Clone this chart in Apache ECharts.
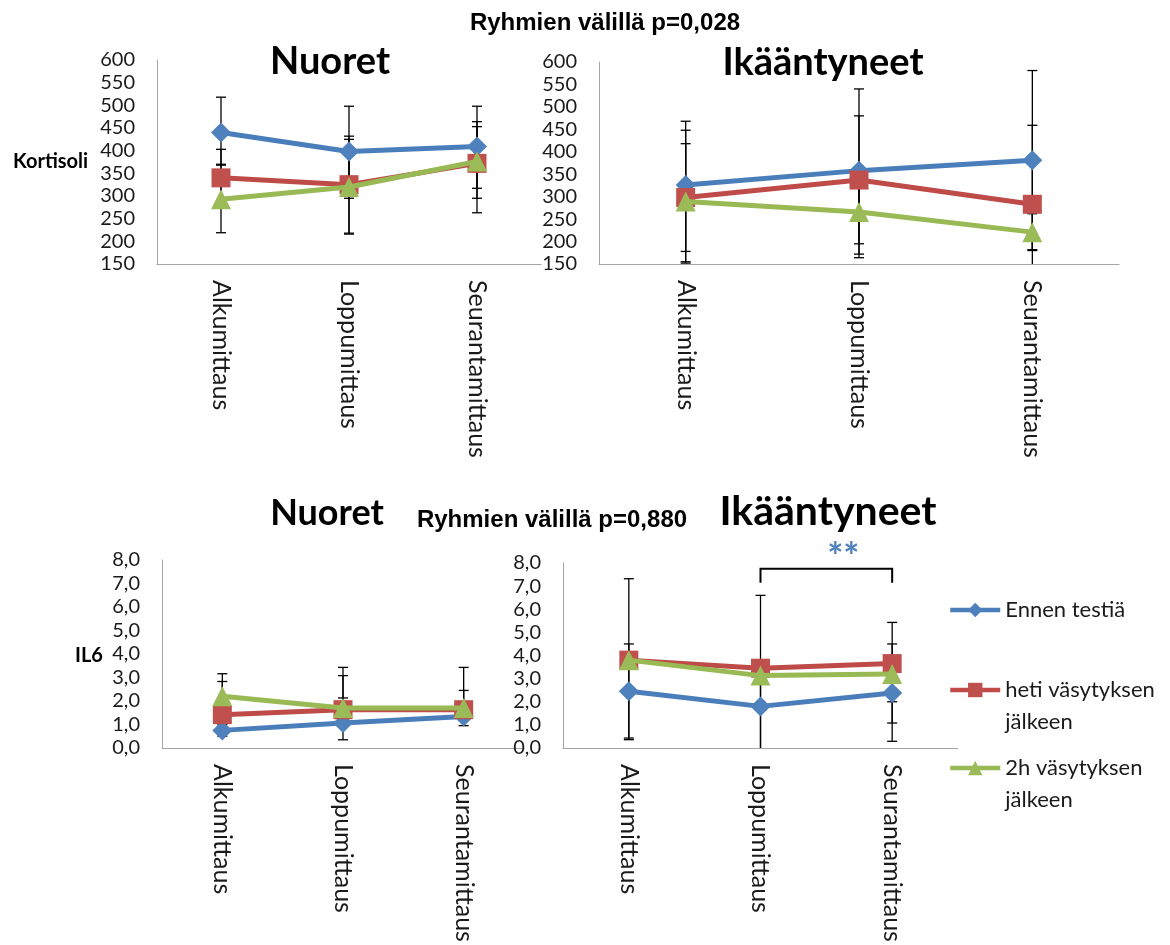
<!DOCTYPE html>
<html>
<head>
<meta charset="utf-8">
<script src="https://cdn.jsdelivr.net/npm/echarts@6/dist/echarts.min.js"></script>
<style>
  html, body { margin: 0; padding: 0; background: #ffffff; }
  #chart { width: 1170px; height: 945px; }
</style>
</head>
<body>
<div id="chart"></div>
<script>
// Measurement points and groups
const categories = ['Alkumittaus', 'Loppumittaus', 'Seurantamittaus'];
const seriesNames = ['Ennen testiä', 'heti väsytyksen jälkeen', '2h väsytyksen jälkeen'];

// Axis scales: [min, max, step]
const kortisoliScale = [150, 600, 50];
const il6Scale = [0, 8, 1];

// Cortisol, young group (rows: series, columns: categories)
const kortNuoretMean = [[440, 398, 409], [340, 325, 372], [293, 320, 376]];
const kortNuoretLow  = [[370, 295, 317], [278, 218, 263], [219, 216, 295]];
const kortNuoretHigh = [[518, 498, 498], [403, 432, 464], [368, 425, 453]];

// Cortisol, elderly group
const kortIkaMean = [[326, 358, 381], [298, 337, 283], [289, 266, 221]];
const kortIkaLow  = [[178, 172, 180], [152, 195, 100], [155, 164, 182]];
const kortIkaHigh = [[468, 540, 581], [448, 480, 459], [418, 367, 262]];

// IL6, young group
const il6NuoretMean = [[0.75, 1.06, 1.34], [1.42, 1.63, 1.63], [2.2, 1.7, 1.7]];
const il6NuoretLow  = [[0.5, 0.35, 0.95], [1.15, 1.3, 1.3], [1.85, 1.4, 1.35]];
const il6NuoretHigh = [[1.0, 2.13, 1.7], [2.83, 3.08, 3.43], [3.16, 3.43, 2.45]];

// IL6, elderly group
const il6IkaMean = [[2.45, 1.8, 2.38], [3.8, 3.45, 3.65], [3.8, 3.13, 3.2]];
const il6IkaLow  = [[0.43, -0.1, 0.29], [0.36, -0.2, 2.0], [3.5, 2.8, 1.08]];
const il6IkaHigh = [[4.5, 3.6, 4.5], [7.32, 6.6, 5.43], [4.1, 3.5, 3.5]];

// Significant difference marked in the elderly IL6 panel
const significantPair = ['Loppumittaus', 'Seurantamittaus'];
const significanceMark = '**';

const lineColors = ['#4A7EBB', '#BE4B48', '#98B954'];
const markerColors = ['#4F81BD', '#C0504D', '#9BBB59'];
const markerShapes = ['diamond', 'rect', 'triangle'];
const markerSizes = [20, 19, 20];
const FONT = 'Lato, "Open Sans", sans-serif';

const panels = [
  { grid: { left: 157, top: 60, width: 384, height: 204 }, scale: kortisoliScale, mean: kortNuoretMean, low: kortNuoretLow, high: kortNuoretHigh, dec: 0 },
  { grid: { left: 599, top: 62, width: 520, height: 202 }, scale: kortisoliScale, mean: kortIkaMean, low: kortIkaLow, high: kortIkaHigh, dec: 0 },
  { grid: { left: 162, top: 560, width: 362, height: 188 }, scale: il6Scale, mean: il6NuoretMean, low: il6NuoretLow, high: il6NuoretHigh, dec: 1 },
  { grid: { left: 563, top: 563, width: 395, height: 185 }, scale: il6Scale, mean: il6IkaMean, low: il6IkaLow, high: il6IkaHigh, dec: 1 }
];

const grids = [], xAxes = [], yAxes = [], series = [];

panels.forEach((p, i) => {
  grids.push(Object.assign({ containLabel: false }, p.grid));
  xAxes.push({
    type: 'category', gridIndex: i, data: categories, boundaryGap: true,
    axisLine: { show: true, lineStyle: { color: '#A6A6A6', width: 1 } },
    axisTick: { show: false },
    axisLabel: { rotate: -90, margin: 16, fontFamily: FONT, fontSize: 25, color: '#1a1a1a' },
    splitLine: { show: false }
  });
  yAxes.push({
    type: 'value', gridIndex: i, min: p.scale[0], max: p.scale[1], interval: p.scale[2],
    axisLine: { show: true, lineStyle: { color: '#A6A6A6', width: 1 } },
    axisTick: { show: false },
    splitLine: { show: false },
    axisLabel: {
      margin: 22, fontFamily: FONT, fontSize: 20, color: '#1a1a1a',
      formatter: v => v.toFixed(p.dec).replace('.', ',')
    }
  });

  // Error bars (drawn beneath the lines and markers)
  const floor = p.scale[0];
  const errData = [];
  p.low.forEach((row, s) => row.forEach((lo, c) => errData.push([c, lo, p.high[s][c]])));
  series.push({
    type: 'custom', xAxisIndex: i, yAxisIndex: i, z: 1, silent: true,
    encode: { x: 0, y: [1, 2] },
    data: errData,
    renderItem(params, api) {
      const c = api.value(0), lo = api.value(1), hi = api.value(2);
      const top = api.coord([c, hi]);
      const bot = api.coord([c, Math.max(lo, floor)]);
      const half = 5;
      const st = { stroke: '#000', lineWidth: 1.3 };
      const children = [
        { type: 'line', shape: { x1: top[0], y1: top[1], x2: bot[0], y2: bot[1] }, style: st },
        { type: 'line', shape: { x1: top[0] - half, y1: top[1], x2: top[0] + half, y2: top[1] }, style: st }
      ];
      if (lo >= floor) {
        children.push({ type: 'line', shape: { x1: bot[0] - half, y1: bot[1], x2: bot[0] + half, y2: bot[1] }, style: st });
      }
      return { type: 'group', children };
    }
  });

  p.mean.forEach((vals, s) => {
    series.push({
      type: 'line', name: seriesNames[s], xAxisIndex: i, yAxisIndex: i, z: 2 + s,
      data: vals,
      symbol: markerShapes[s], symbolSize: markerSizes[s], showSymbol: true,
      lineStyle: { color: lineColors[s], width: 5 },
      itemStyle: { color: markerColors[s], borderWidth: 0 },
      emphasis: { disabled: true },
      animation: false
    });
  });
});

// Significance bracket between two measurement points (elderly IL6)
series.push({
  type: 'custom', xAxisIndex: 3, yAxisIndex: 3, z: 10, silent: true,
  encode: { x: [0, 1] },
  data: [significantPair.map(name => categories.indexOf(name))],
  renderItem(params, api) {
    const a = api.value(0), b = api.value(1);
    const pa = api.coord([a, 7.75]);
    const pb = api.coord([b, 7.75]);
    const drop = 14;
    return {
      type: 'group',
      children: [
        { type: 'polyline', shape: { points: [[pa[0], pa[1] + drop], [pa[0], pa[1]], [pb[0], pb[1]], [pb[0], pb[1] + drop]] },
          style: { stroke: '#000', lineWidth: 2, fill: null } },
        { type: 'text', style: { text: significanceMark, x: (pa[0] + pb[0]) / 2 + 17, y: pa[1] - 11,
          align: 'center', verticalAlign: 'middle', textAlign: 'center', textVerticalAlign: 'middle',
          font: 'bold 38px ' + FONT, fill: '#4F81BD' } }
      ]
    };
  }
});

function label(text, x, y, font, align) {
  return {
    type: 'text', silent: true,
    style: { text, x, y, font, fill: '#000', align: align || 'center', verticalAlign: 'middle',
      textAlign: align || 'center', textVerticalAlign: 'middle' }
  };
}

// Two-line entries get a blank leading line so the first line sits level with the icon
const legendCommon = {
  orient: 'vertical', padding: 0, itemWidth: 50, itemHeight: 18, selectedMode: false,
  lineStyle: { width: 4.5 },
  textStyle: { fontFamily: FONT, fontSize: 22, color: '#1a1a1a', lineHeight: 32 },
  formatter: name => name.indexOf(' jälkeen') >= 0 ? '\n' + name.replace(' jälkeen', '\njälkeen') : name
};

const option = {
  animation: false,
  backgroundColor: '#ffffff',
  grid: grids,
  xAxis: xAxes,
  yAxis: yAxes,
  series: series,
  legend: [
    Object.assign({}, legendCommon, { left: 948, top: 594, data: [seriesNames[0]] }),
    Object.assign({}, legendCommon, { left: 948, top: 642, data: [seriesNames[1]] }),
    Object.assign({}, legendCommon, { left: 948, top: 720, data: [seriesNames[2]] })
  ],
  graphic: [
    label('Ryhmien välillä p=0,028', 605, 23, 'bold 24px "Liberation Sans", Arial, sans-serif'),
    label('Nuoret', 330, 62, 'bold 38px ' + FONT),
    label('Ikääntyneet', 823, 63, 'bold 38px ' + FONT),
    label('Kortisoli', 13, 162, 'bold 20px ' + FONT, 'left'),
    label('Nuoret', 327, 513, 'bold 36px ' + FONT),
    label('Ryhmien välillä p=0,880', 552, 520, 'bold 24px "Liberation Sans", Arial, sans-serif'),
    label('Ikääntyneet', 828, 512, 'bold 41px ' + FONT),
    label('IL6', 75, 656, 'bold 20px ' + FONT, 'left')
  ]
};

const chart = echarts.init(document.getElementById('chart'), null, { renderer: 'canvas' });
chart.setOption(option);
</script>
</body>
</html>
